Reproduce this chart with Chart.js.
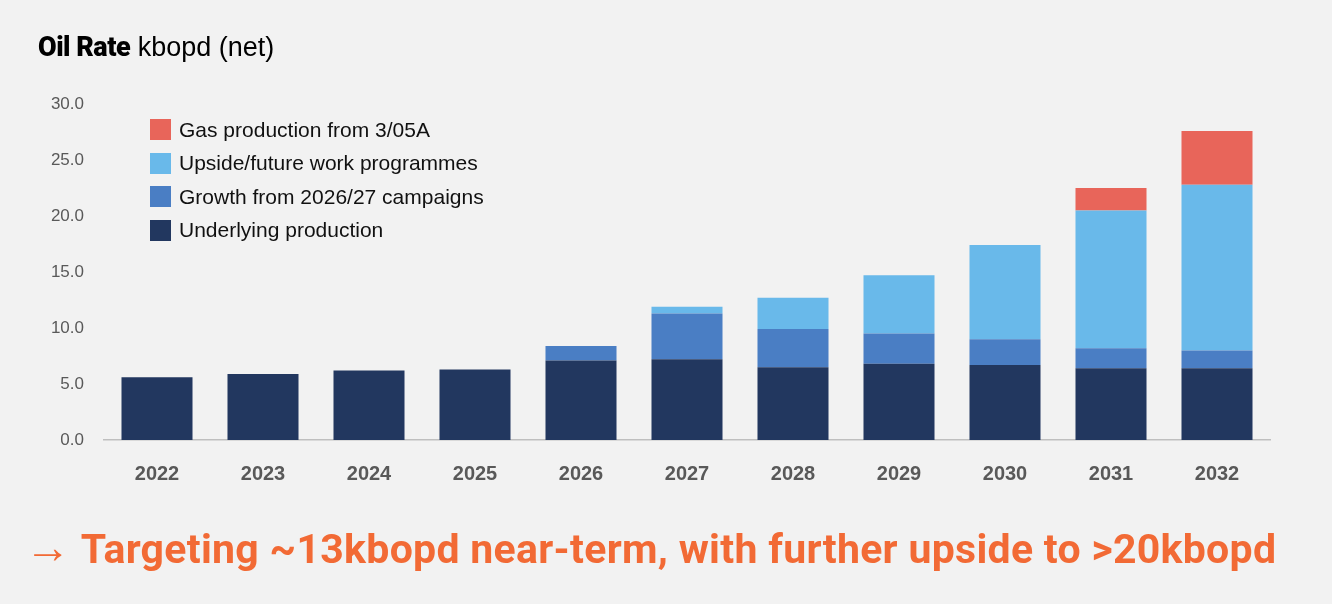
<!DOCTYPE html>
<html><head><meta charset="utf-8">
<script src="https://cdn.jsdelivr.net/npm/chart.js@4"></script>
<style>
body{margin:0;background:#f2f2f2;width:1332px;height:604px;overflow:hidden;font-family:"Liberation Sans",Arial,sans-serif;position:relative}
#wrap{position:absolute;left:0;top:0;width:1332px;height:604px}
#title{position:absolute;left:38px;top:31px;font-size:27px;color:#000}
#title b{font-family:Roboto,sans-serif;font-weight:900;letter-spacing:-0.5px}
#legend{position:absolute;left:150px;top:113px;font-size:21px;color:#111}
#legend div{height:33.5px;display:flex;align-items:center}
#legend span{display:inline-block;width:21px;height:21px;margin-right:8px}
#foot{position:absolute;left:25px;top:520px;font-family:Roboto,sans-serif;font-weight:700;font-size:41px;color:#f26a35;white-space:nowrap;letter-spacing:0.3px}
</style></head><body>
<div id="wrap"><canvas id="c" width="1332" height="604"></canvas></div>
<div id="title"><b>Oil Rate</b> kbopd (net)</div>
<div id="legend"></div>
<div id="foot"><span style="font-weight:300;font-size:46px">&rarr;</span> Targeting ~13kbopd near-term, with further upside to &gt;20kbopd</div>
<script>
const years = ['2022','2023','2024','2025','2026','2027','2028','2029','2030','2031','2032'];
const underlying = [5.6, 5.9, 6.2, 6.3, 7.1, 7.2, 6.5, 6.8, 6.7, 6.4, 6.4];
const growth = [0, 0, 0, 0, 1.3, 4.1, 3.4, 2.7, 2.3, 1.8, 1.6];
const upside = [0, 0, 0, 0, 0, 0.6, 2.8, 5.2, 8.4, 12.3, 14.8];
const gas = [0, 0, 0, 0, 0, 0, 0, 0, 0, 2.0, 4.8];
const yTicks = [0, 5, 10, 15, 20, 25, 30];

const series = [
  {label: 'Underlying production', data: underlying, color: '#22375f'},
  {label: 'Growth from 2026/27 campaigns', data: growth, color: '#4a7ec4'},
  {label: 'Upside/future work programmes', data: upside, color: '#69b9ea'},
  {label: 'Gas production from 3/05A', data: gas, color: '#e8655a'}
];

const leg = document.getElementById('legend');
series.slice().reverse().forEach(s => {
  const d = document.createElement('div');
  d.innerHTML = '<span style="background:' + s.color + '"></span>' + s.label;
  leg.appendChild(d);
});

new Chart(document.getElementById('c'), {
  type: 'bar',
  data: {
    labels: years,
    datasets: series.map(s => ({
      label: s.label, data: s.data, backgroundColor: s.color,
      barPercentage: 0.67, categoryPercentage: 1.0
    }))
  },
  options: {
    responsive: false, animation: false,
    layout: {padding: {top: 104, bottom: 96, right: 62, left: 0}},
    plugins: {legend: {display: false}, tooltip: {enabled: false}},
    scales: {
      x: {
        stacked: true,
        grid: {display: false, drawTicks: false},
        border: {color: '#bfbfbf', width: 1.5},
        ticks: {color: '#595959', font: {size: 20, weight: 'bold'}, padding: 22}
      },
      y: {
        stacked: true, min: 0, max: 30,
        afterFit: a => { a.width = 104; },
        afterBuildTicks: a => { a.ticks = yTicks.map(v => ({value: v})); },
        grid: {display: false, drawTicks: false},
        border: {display: false},
        ticks: {color: '#595959', font: {size: 17}, padding: 20, callback: v => v.toFixed(1)}
      }
    }
  }
});
</script>
</body></html>
